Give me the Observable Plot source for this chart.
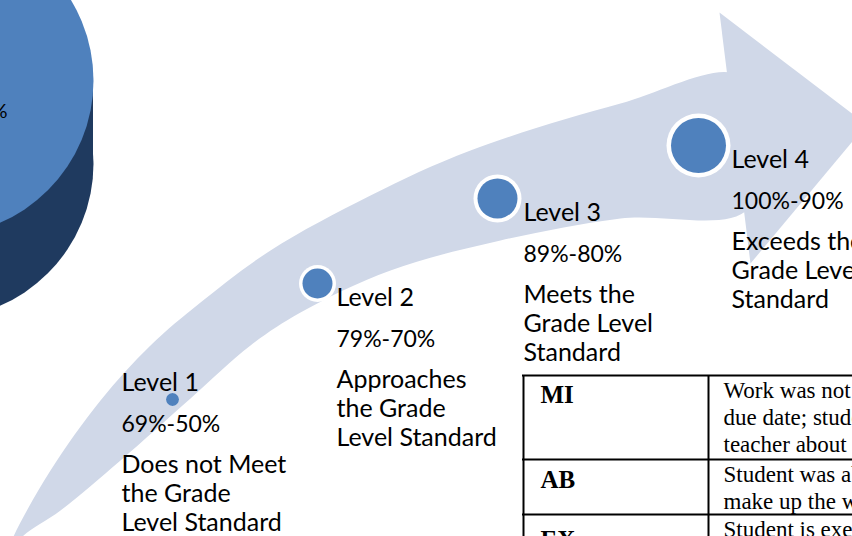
<!DOCTYPE html>
<html><head><meta charset="utf-8">
<script src="https://cdn.jsdelivr.net/npm/d3@7"></script>
<script src="https://cdn.jsdelivr.net/npm/@observablehq/plot@0.6"></script>
<style>html,body{margin:0;padding:0;background:#fff;overflow:hidden}</style>
</head><body><div id="chart"></div>
<script>
// ---- content ----
const levelNames = ["Level 1", "Level 2", "Level 3", "Level 4"];
const levelRanges = ["69%-50%", "79%-70%", "89%-80%", "100%-90%"];
const levelDescriptions = [
  ["Does not Meet", "the Grade", "Level Standard"],
  ["Approaches", "the Grade", "Level Standard"],
  ["Meets the", "Grade Level", "Standard"],
  ["Exceeds the", "Grade Level", "Standard"]
];
const tableCodes = ["MI", "AB", "EX"];
const tableNotes = [
  ["Work was not turned in by the", "due date; student talked to the", "teacher about it"],
  ["Student was absent and will", "make up the work"],
  ["Student is exempt"]
];
const pieLabel = "100%";

// ---- layout (pixel frame 852 x 536) ----
const dotCenters = [[172, 399], [317, 283], [497, 198], [698, 145]];
const dotInnerR = [6.5, 15, 20, 27.5];
const dotOuterR = [6.5, 18.5, 24, 32];
const textAnchors = [[121, 390], [336, 305], [523, 220], [731, 167]];
const lineOffsets = [0, 41, 82, 111, 140];
const lineSizes = [25, 23, 25, 25, 25];

const arrowUpperEdge = [[4, 560], [13, 536], [50, 470], [100, 400], [150, 345], [200, 302], [270, 250], [370, 195], [470, 150], [620, 103], [740, 76]];
const arrowLowerEdge = [[748, 208], [620, 218], [500, 240], [390, 270], [300, 312], [250, 345], [190, 398], [120, 460], [60, 510], [22, 536], [4, 560]];
const arrowHead = [[719, 12], [866, 124], [750, 263]];

const pieCenterX = -62, pieTopY = 80, pieBottomY = 163, pieR = 155;
const pieLabelPos = [7, 117];

const tableLeft = 523, tableDivider = 708, tableRight = 900, tableBottom = 600;
const tableRowTops = [375, 459, 514];
const codeBaselines = [402, 487, 547];
const noteFirstBaseline = 22, noteLineStep = 27;

// ---- derived records ----
const arrowBody = [...arrowUpperEdge, ...arrowLowerEdge].map(([x, y]) => ({x, y}));
const headPts = arrowHead.map(([x, y]) => ({x, y}));
const dots = levelNames.map((name, i) => ({name, x: dotCenters[i][0], y: dotCenters[i][1], rIn: dotInnerR[i], rOut: dotOuterR[i]}));
const levelLines = levelNames.flatMap((name, i) => {
  const lines = [name, levelRanges[i], ...levelDescriptions[i]];
  return lines.map((t, j) => ({t, x: textAnchors[i][0], y: textAnchors[i][1] + lineOffsets[j], size: lineSizes[j]}));
});
const codeRecs = tableCodes.map((c, i) => ({t: c, x: tableLeft + 17, y: codeBaselines[i]}));
const noteRecs = tableNotes.flatMap((lines, i) => lines.map((t, j) => ({t, x: tableDivider + 15, y: tableRowTops[i] + noteFirstBaseline + j * noteLineStep})));
const hLines = tableRowTops.map(y => ({y}));
const vLines = [tableLeft, tableDivider].map(x => ({x}));

const ARROW = "#d0d8e8", BLUE = "#4f81bd", DARK = "#1f3a5f";

const textMarks = [25, 23].map(size => Plot.text(levelLines.filter(d => d.size === size), {x: "x", y: "y", text: "t", textAnchor: "start", lineAnchor: "bottom", fontSize: size, fontFamily: "Lato", fill: "#000"}));

const chart = Plot.plot({
  width: 852, height: 536, margin: 0,
  x: {domain: [0, 852], range: [0, 852], axis: null},
  y: {domain: [0, 536], range: [0, 536], axis: null},
  r: {type: "identity"},
  style: {background: "#fff", overflow: "hidden"},
  marks: [
    // 3D pie fragment
    Plot.dot([{x: pieCenterX, y: pieBottomY}], {x: "x", y: "y", r: pieR, fill: DARK, stroke: null}),
    Plot.rect([{x1: pieCenterX - pieR, x2: pieCenterX + pieR, y1: pieTopY, y2: pieBottomY}], {x1: "x1", x2: "x2", y1: "y1", y2: "y2", fill: DARK}),
    Plot.dot([{x: pieCenterX, y: pieTopY}], {x: "x", y: "y", r: pieR, fill: BLUE, stroke: null}),
    Plot.text([{t: pieLabel, x: pieLabelPos[0], y: pieLabelPos[1]}], {x: "x", y: "y", text: "t", textAnchor: "end", lineAnchor: "bottom", fontSize: 20, fontFamily: "Lato", fill: "#000"}),
    // arrow
    Plot.line(arrowBody, {x: "x", y: "y", curve: "catmull-rom", fill: ARROW, stroke: null}),
    Plot.line(headPts, {x: "x", y: "y", curve: "linear-closed", fill: ARROW, stroke: null}),
    // level dots
    Plot.dot(dots, {x: "x", y: "y", r: "rOut", fill: "#fff", stroke: null}),
    Plot.dot(dots, {x: "x", y: "y", r: "rIn", fill: BLUE, stroke: null}),
    // level text
    ...textMarks,
    // table
    Plot.ruleY(hLines, {y: "y", x1: tableLeft - 1, x2: tableRight, stroke: "#000", strokeWidth: 2}),
    Plot.ruleX(vLines, {x: "x", y1: tableRowTops[0], y2: tableBottom, stroke: "#000", strokeWidth: 2}),
    Plot.text(codeRecs, {x: "x", y: "y", text: "t", textAnchor: "start", lineAnchor: "bottom", fontSize: 25, fontWeight: "bold", fontFamily: "Liberation Serif", fill: "#000"}),
    Plot.text(noteRecs, {x: "x", y: "y", text: "t", textAnchor: "start", lineAnchor: "bottom", fontSize: 23, fontFamily: "Liberation Serif", fill: "#000"})
  ]
});
document.getElementById("chart").appendChild(chart);
</script></body></html>
